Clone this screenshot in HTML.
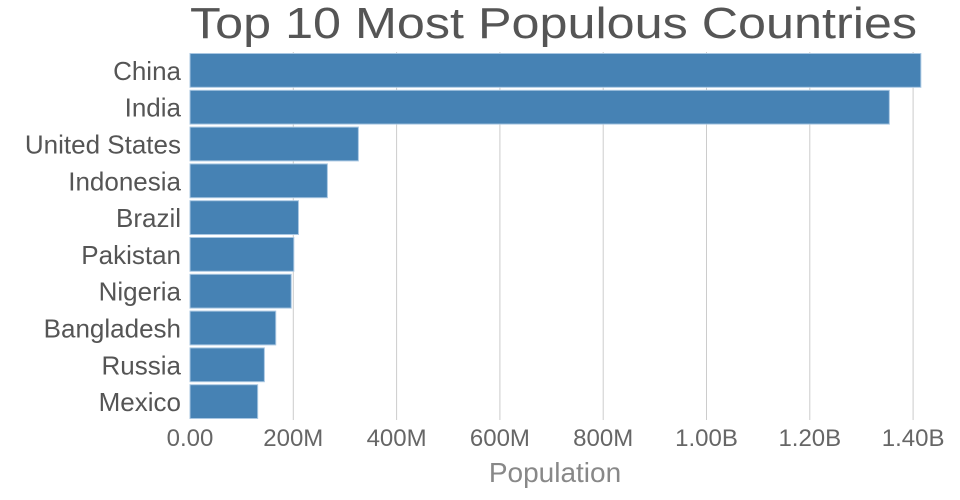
<!DOCTYPE html>
<html><head><meta charset="utf-8"><style>
body{margin:0;background:#fff;}
svg{display:block;font-family:"Liberation Sans",sans-serif;}
</style></head><body>
<svg width="960" height="500">
<text x="190" y="38" textLength="727" lengthAdjust="spacingAndGlyphs" font-size="44" fill="#555">Top 10 Most Populous Countries</text>
<g id="grid"></g><g id="bars"></g><g id="ylabels"></g><g id="xlabels"></g>
<text x="555" y="482" text-anchor="middle" font-size="28" fill="#888">Population</text>
</svg>
<script>
const countries=["China","India","United States","Indonesia","Brazil","Pakistan","Nigeria","Bangladesh","Russia","Mexico"];
const populations=[1415e6,1354e6,326e6,266e6,210e6,201e6,196e6,166e6,144e6,131e6];
const tickValues=[0,200e6,400e6,600e6,800e6,1000e6,1200e6,1400e6];
const tickLabels=["0.00","200M","400M","600M","800M","1.00B","1.20B","1.40B"];
const ns="http://www.w3.org/2000/svg";
const x0=190,pxPer=103.3/200e6,plotTop=52,plotBottom=420;
const band=(plotBottom-plotTop)/countries.length;
function xs(v){return x0+v*pxPer;}
function mk(t,a,p){const e=document.createElementNS(ns,t);for(const k in a)e.setAttribute(k,a[k]);p.appendChild(e);return e;}
const g=document.getElementById('grid'),b=document.getElementById('bars'),yl=document.getElementById('ylabels'),xl=document.getElementById('xlabels');
tickValues.forEach((v,i)=>{
 if(i>0){const l=mk('line',{x1:xs(v),x2:xs(v),y1:plotTop,y2:plotBottom,stroke:'#ccc','stroke-width':1},g);
 
 }
 const t=mk('text',{x:xs(v),y:446,'text-anchor':'middle','font-size':24,fill:'#666'},xl);
 t.textContent=tickLabels[i];
 
 
});
countries.forEach((c,i)=>{
 const y=plotTop+i*band+1.5;
 const r=mk('rect',{x:x0,y:y,width:xs(populations[i])-x0,height:band-3,fill:'#4682b4',stroke:'#a9c7e2','stroke-width':1},b);
 
 
 const t=mk('text',{x:181,y:y+band/2+8,'text-anchor':'end','font-size':26,fill:'#555'},yl);
 t.textContent=c;
 
 
});
</script>
</body></html>
